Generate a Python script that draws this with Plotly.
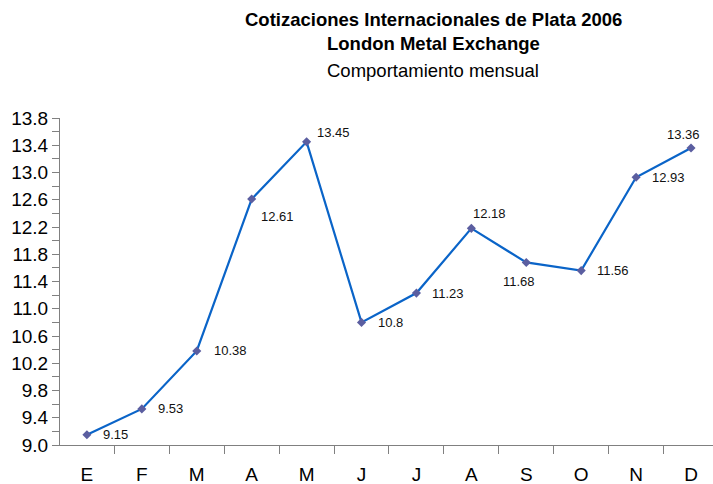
import plotly.graph_objects as go

months = ["E", "F", "M", "A", "M", "J", "J", "A", "S", "O", "N", "D"]
prices = [9.15, 9.53, 10.38, 12.61, 13.45, 10.8, 11.23, 12.18, 11.68, 11.56, 12.93, 13.36]
label_text = ["9.15", "9.53", "10.38", "12.61", "13.45", "10.8", "11.23", "12.18", "11.68", "11.56", "12.93", "13.36"]
y_ticks = [9.0, 9.4, 9.8, 10.2, 10.6, 11.0, 11.4, 11.8, 12.2, 12.6, 13.0, 13.4, 13.8]

# label offsets (px) relative to each point: (xshift, yshift, xanchor)
offsets = [
    (14, 0, "left"), (14, 0, "left"), (15, 0, "left"), (7, -17, "left"),
    (8, 9, "left"), (14, 0, "left"), (14, 0, "left"), (18, 15, "center"),
    (-7, -19, "center"), (14, 0, "left"), (14, 0, "left"), (-8, 13, "center"),
]

xs = list(range(len(months)))

fig = go.Figure()
fig.add_trace(go.Scatter(
    x=xs, y=prices, mode="lines+markers",
    line=dict(color="#0a64c8", width=2.2),
    marker=dict(symbol="diamond", size=7, color="#5b5ea0"),
    showlegend=False,
))

for x, y, t, (dx, dy, anc) in zip(xs, prices, label_text, offsets):
    fig.add_annotation(x=x, y=y, text=t, showarrow=False, xshift=dx, yshift=dy,
                       xanchor=anc, yanchor="middle",
                       font=dict(size=13, color="#111111", family="Liberation Sans, Arial"))

# title lines: text, centre y (px from top)
titles = [
    ("<b>Cotizaciones Internacionales de Plata 2006</b>", 20),
    ("<b>London Metal Exchange</b>", 44),
    ("Comportamiento mensual", 70),
]
for txt, ypx in titles:
    fig.add_annotation(x=(433 - 60) / (713 - 60), y=(484 - ypx - 39) / (484 - 118 - 39),
                       xref="paper", yref="paper", text=txt,
                       showarrow=False, xanchor="center", yanchor="middle",
                       font=dict(size=18.5, color="#000000", family="Liberation Sans, Arial"))

fig.update_layout(
    width=713, height=484,
    margin=dict(l=60, r=0, t=118, b=39),
    paper_bgcolor="white", plot_bgcolor="white",
    font=dict(family="Liberation Sans, Arial", color="#000000"),
)
fig.update_xaxes(
    range=[-0.49, 11.40], tickmode="array", tickvals=xs, ticktext=months,
    showline=True, linecolor="#808080", linewidth=1,
    ticks="", showgrid=False, zeroline=False,
    tickfont=dict(size=19), ticklabelstandoff=12,
    minor=dict(tickmode="array", tickvals=[i - 0.5 for i in range(13)],
               ticks="outside", ticklen=8, tickcolor="#808080"),
)
fig.update_yaxes(
    range=[9.0, 13.8], tickmode="array", tickvals=y_ticks,
    ticktext=[f"{v:.1f}" for v in y_ticks],
    showline=True, linecolor="#808080", linewidth=1,
    ticks="outside", ticklen=7, tickcolor="#808080",
    showgrid=False, zeroline=False, tickfont=dict(size=19),
    minor=dict(dtick=0.2, tick0=9.0, ticks="outside", ticklen=7, tickcolor="#808080"),
)

fig.write_html("out.html", config={"displayModeBar": False},
               post_script="document.body.style.margin='0';")
